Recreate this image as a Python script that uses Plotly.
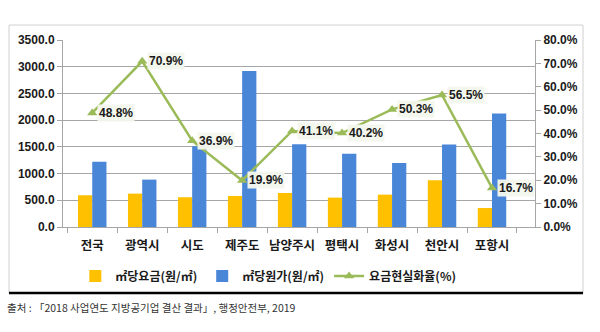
import plotly.graph_objects as go

categories = ["전국", "광역시", "시도", "제주도", "남양주시", "평택시", "화성시", "천안시", "포항시"]
fee = [594, 625, 557, 581, 637, 550, 606, 875, 355]
cost = [1219, 887, 1510, 2919, 1550, 1369, 1200, 1544, 2125]
ratio = [48.8, 70.9, 36.9, 19.9, 41.1, 40.2, 50.3, 56.5, 16.7]
left_ticks = [0, 500, 1000, 1500, 2000, 2500, 3000, 3500]
right_ticks = [0, 10, 20, 30, 40, 50, 60, 70, 80]

NUM_FONT = "Liberation Sans, Noto Sans CJK KR, sans-serif"
KR_FONT = "Noto Sans CJK KR, sans-serif"

fig = go.Figure()
fig.add_trace(go.Bar(x=categories, y=fee, name="㎡당요금(원/㎡)",
                     marker=dict(color="#FFC000", line=dict(width=0))))
fig.add_trace(go.Bar(x=categories, y=cost, name="㎡당원가(원/㎡)",
                     marker=dict(color="#4A86D8", line=dict(width=0))))
fig.add_trace(go.Scatter(x=categories, y=ratio, name="요금현실화율(%)", yaxis="y2",
                         mode="lines+markers",
                         line=dict(color="#9BBB59", width=2.5),
                         marker=dict(symbol="triangle-up", size=9, color="#9BBB59")))

annotations = []
for c, r in zip(categories, ratio):
    annotations.append(dict(x=c, y=r, yref="y2", xref="x", text=f"{r:.1f}%",
                            showarrow=False, xanchor="left", yanchor="middle", xshift=5,
                            font=dict(family=NUM_FONT, size=12, color="#1a1a1a", weight="bold"),
                            bgcolor="rgba(243,247,236,0.95)", borderpad=1))

annotations.append(dict(x=-0.123, y=-0.428, xref="paper", yref="paper",
                        text="출처 : 「2018 사업연도 지방공기업 결산 결과」, 행정안전부, 2019",
                        showarrow=False, xanchor="left", yanchor="middle",
                        font=dict(family=KR_FONT, size=10.5, color="#333333")))

shapes = [
    dict(type="rect", xref="paper", yref="paper", x0=-0.1144, x1=1.1017, y0=-0.353, y1=1.080,
         line=dict(color="#D0D0D0", width=1), fillcolor="rgba(0,0,0,0)", layer="below"),
    dict(type="line", xref="paper", yref="paper", x0=-0.1144, x1=1.1017, y0=-0.353, y1=-0.353,
         line=dict(color="#000000", width=2.5)),
]

fig.update_layout(
    width=600, height=332,
    margin=dict(l=63, r=65, t=40, b=105),
    paper_bgcolor="white", plot_bgcolor="white",
    barmode="group", bargap=0.43, bargroupgap=0,
    showlegend=True,
    legend=dict(orientation="h", x=0.435, y=-0.262, xanchor="center", yanchor="middle",
                font=dict(family=KR_FONT, size=12, color="#1a1a1a", weight="bold"),
                traceorder="normal", itemwidth=30),
    xaxis=dict(type="category", showline=True, linecolor="#A6A6A6", linewidth=1,
               ticks="outside", tickson="boundaries", ticklen=5, tickcolor="#A6A6A6",
               tickangle=0, ticklabelstandoff=7,
               tickfont=dict(family=KR_FONT, size=12.5, color="#1a1a1a", weight="bold"),
               showgrid=False),
    yaxis=dict(range=[0, 3500], tickvals=left_ticks,
               ticktext=[f"{v:.1f}" for v in left_ticks],
               showline=True, linecolor="#A6A6A6", linewidth=1,
               ticks="outside", ticklen=5, tickcolor="#A6A6A6",
               showgrid=True, gridcolor="#A6A6A6", gridwidth=1,
               tickfont=dict(family=NUM_FONT, size=12, color="#1a1a1a", weight="bold"),
               zeroline=False),
    yaxis2=dict(range=[0, 80], tickvals=right_ticks,
                ticktext=[f"{v:.1f}%" for v in right_ticks],
                overlaying="y", side="right",
                showline=True, linecolor="#A6A6A6", linewidth=1,
                ticks="outside", ticklen=5, tickcolor="#A6A6A6",
                showgrid=False, zeroline=False,
                tickfont=dict(family=NUM_FONT, size=12, color="#1a1a1a", weight="bold")),
    annotations=annotations,
    shapes=shapes,
)

fig.write_html("out.html")
